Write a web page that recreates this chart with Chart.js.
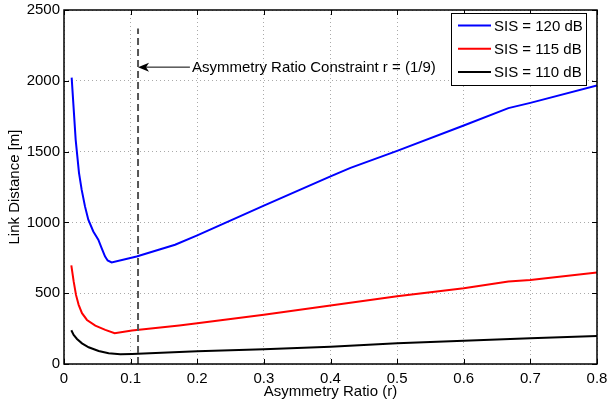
<!DOCTYPE html>
<html>
<head>
<meta charset="utf-8">
<script src="https://cdn.jsdelivr.net/npm/chart.js@4"></script>
<style>
  body { margin: 0; background: #fff; }
  canvas { display: block; }
</style>
</head>
<body>
<canvas id="chart" width="608" height="407"></canvas>
<script>
// values
const ratio120 = [0.0115, 0.0175, 0.0225, 0.0265, 0.0315, 0.0365, 0.044, 0.0515, 0.0565, 0.0615, 0.0655, 0.0715, 0.109, 0.1667, 0.2, 0.3, 0.4, 0.43, 0.5, 0.6, 0.667, 0.7, 0.8];
const dist120  = [2022, 1585, 1350, 1231, 1113, 1019, 936, 878, 819, 760, 731, 717, 759, 842, 908, 1118, 1325, 1385, 1505, 1684, 1807, 1844, 1967];

const ratio115 = [0.011, 0.0145, 0.018, 0.022, 0.027, 0.0345, 0.047, 0.062, 0.076, 0.102, 0.173, 0.2, 0.3, 0.4, 0.5, 0.6, 0.667, 0.7, 0.8];
const dist115  = [696, 583, 488, 418, 359, 311, 271, 241, 217, 236, 272, 288, 347, 413, 478, 535, 582, 594, 646];

const ratio110 = [0.011, 0.0145, 0.0195, 0.027, 0.037, 0.052, 0.067, 0.0845, 0.102, 0.173, 0.2, 0.3, 0.4, 0.5, 0.6, 0.7, 0.8];
const dist110  = [238, 205, 177, 146, 118, 92, 76, 69, 71, 85, 90, 104, 122, 146, 165, 182, 198];

const seriesLabels = ['SIS = 120 dB', 'SIS = 115 dB', 'SIS = 110 dB'];
const seriesColors = ['#0000ff', '#ff0000', '#000000'];

const constraintR = 1 / 9;
const constraintTop = 2370;
const arrowY = 2100;
const arrowTailR = 0.189;
const constraintText = 'Asymmetry Ratio Constraint r = (1/9)';

const xTicks = [0, 0.1, 0.2, 0.3, 0.4, 0.5, 0.6, 0.7, 0.8];
const yTicks = [0, 500, 1000, 1500, 2000, 2500];

const FONT = "'Liberation Sans', Arial, Helvetica, sans-serif";
Chart.defaults.font.family = FONT;
Chart.defaults.font.size = 15;
Chart.defaults.color = '#000';

const toPoints = (xs, ys) => xs.map((x, i) => ({ x: x, y: ys[i] }));

const boxPlugin = {
  id: 'boxPlugin',
  afterDatasetsDraw(chart) {
    const ctx = chart.ctx;
    const a = chart.chartArea;
    const xs = chart.scales.x, ys = chart.scales.y;

    // annotation arrow + text
    const tipX = xs.getPixelForValue(constraintR);
    const tailX = xs.getPixelForValue(arrowTailR);
    const ay = ys.getPixelForValue(arrowY);
    ctx.save();
    ctx.strokeStyle = '#000';
    ctx.fillStyle = '#000';
    ctx.lineWidth = 1;
    ctx.beginPath();
    ctx.moveTo(tailX, ay + 0.5);
    ctx.lineTo(tipX + 6, ay + 0.5);
    ctx.stroke();
    ctx.beginPath();
    ctx.moveTo(tipX, ay + 0.5);
    ctx.lineTo(tipX + 11, ay - 4);
    ctx.lineTo(tipX + 8, ay + 0.5);
    ctx.lineTo(tipX + 11, ay + 5);
    ctx.closePath();
    ctx.fill();
    ctx.font = '15px ' + FONT;
    ctx.textAlign = 'left';
    ctx.textBaseline = 'middle';
    ctx.fillText(constraintText, tailX + 2, ay + 1);

    // box
    ctx.lineWidth = 1.5;
    ctx.strokeRect(a.left, a.top, a.right - a.left, a.bottom - a.top);

    // inward ticks on all sides
    ctx.lineWidth = 1;
    const tl = 5;
    ctx.beginPath();
    xTicks.forEach(v => {
      const px = Math.round(xs.getPixelForValue(v)) + 0.5;
      ctx.moveTo(px, a.bottom); ctx.lineTo(px, a.bottom - tl);
      ctx.moveTo(px, a.top); ctx.lineTo(px, a.top + tl);
    });
    yTicks.forEach(v => {
      const py = Math.round(ys.getPixelForValue(v)) + 0.5;
      ctx.moveTo(a.left, py); ctx.lineTo(a.left + tl, py);
      ctx.moveTo(a.right, py); ctx.lineTo(a.right - tl, py);
    });
    ctx.stroke();

    // legend
    const lx = 451, ly = 13, lw = 135, lh = 72;
    ctx.fillStyle = '#fff';
    ctx.fillRect(lx, ly, lw, lh);
    ctx.strokeStyle = '#000';
    ctx.lineWidth = 1;
    ctx.strokeRect(lx + 0.5, ly + 0.5, lw, lh);
    seriesLabels.forEach((lab, i) => {
      const yy = ly + 12.5 + i * 23.3;
      ctx.strokeStyle = seriesColors[i];
      ctx.lineWidth = 2;
      ctx.beginPath();
      ctx.moveTo(lx + 7, yy);
      ctx.lineTo(lx + 40, yy);
      ctx.stroke();
      ctx.fillStyle = '#000';
      ctx.textAlign = 'left';
      ctx.textBaseline = 'middle';
      ctx.fillText(lab, lx + 43, yy + 1);
    });
    ctx.restore();
  }
};

const lineSet = (label, xs, ys, color) => ({
  label: label,
  data: toPoints(xs, ys),
  showLine: true,
  borderColor: color,
  backgroundColor: color,
  borderWidth: 2,
  pointRadius: 0,
  tension: 0
});

new Chart(document.getElementById('chart'), {
  type: 'scatter',
  data: {
    datasets: [
      {
        label: 'constraint',
        data: [{ x: constraintR, y: 0 }, { x: constraintR, y: constraintTop }],
        showLine: true,
        borderColor: '#555',
        borderWidth: 2,
        borderDash: [7, 4],
        pointRadius: 0
      },
      lineSet(seriesLabels[0], ratio120, dist120, seriesColors[0]),
      lineSet(seriesLabels[1], ratio115, dist115, seriesColors[1]),
      lineSet(seriesLabels[2], ratio110, dist110, seriesColors[2])
    ]
  },
  options: {
    responsive: false,
    animation: false,
    layout: { padding: { left: 0, top: 10, right: 11, bottom: 0 } },
    plugins: {
      legend: { display: false },
      tooltip: { enabled: false }
    },
    scales: {
      x: {
        type: 'linear',
        min: 0,
        max: 0.8,
        afterFit: s => { s.height = 43; s.paddingLeft = 0; s.paddingRight = 0; },
        afterBuildTicks: s => { s.ticks = xTicks.map(v => ({ value: v })); },
        ticks: { padding: 6, maxRotation: 0, callback: v => String(v) },
        grid: { color: '#aaa', lineWidth: 1, drawTicks: false },
        border: { display: false, dash: [1, 3] },
        title: { display: true, text: 'Asymmetry Ratio (r)', padding: { top: 0, bottom: 6 } }
      },
      y: {
        type: 'linear',
        min: 0,
        max: 2500,
        afterFit: s => { s.width = 64; s.paddingTop = 0; s.paddingBottom = 0; },
        afterBuildTicks: s => { s.ticks = yTicks.map(v => ({ value: v })); },
        ticks: { padding: 4, callback: v => String(v) },
        grid: { color: '#aaa', lineWidth: 1, drawTicks: false },
        border: { display: false, dash: [1, 3] },
        title: { display: true, text: 'Link Distance [m]', padding: { top: 6, bottom: 0 } }
      }
    }
  },
  plugins: [boxPlugin]
});
</script>
</body>
</html>
